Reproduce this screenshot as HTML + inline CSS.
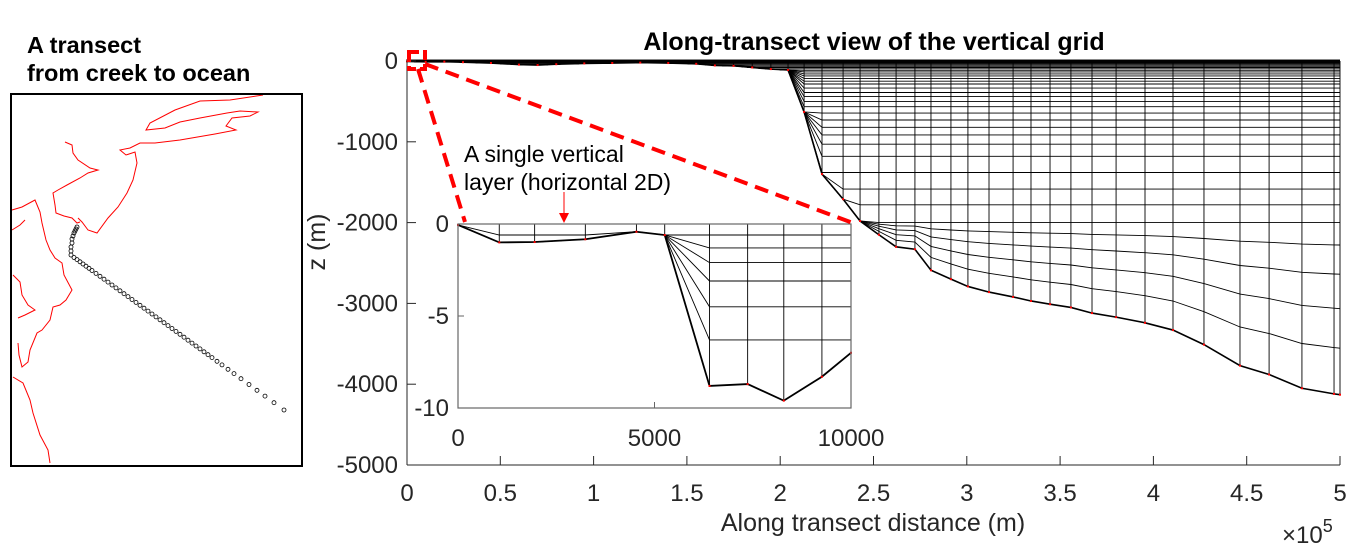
<!DOCTYPE html>
<html><head><meta charset="utf-8">
<style>
html,body{margin:0;padding:0;background:#fff;}
svg{display:block;font-family:"Liberation Sans",Arial,sans-serif;}
</style></head>
<body>
<svg id="fig" width="1355" height="558" viewBox="0 0 1355 558" xmlns="http://www.w3.org/2000/svg">
  <g id="left-panel">
    <text x="27" y="53" font-size="23.5" font-weight="bold">A transect</text>
    <text x="27" y="81" font-size="23.5" font-weight="bold">from creek to ocean</text>
    <g id="coast" fill="none" stroke="#f00" stroke-width="1"></g>
    <g id="transect" fill="none" stroke="#000" stroke-width="0.8"></g>
    <rect x="11" y="94" width="291" height="372" fill="none" stroke="#000" stroke-width="2"/>
  </g>
  <g id="main">
    <text x="874" y="50" font-size="25" font-weight="bold" text-anchor="middle">Along-transect view of the vertical grid</text>
    <g id="grid" fill="none" stroke="#000" stroke-width="1"></g>
    <g id="axes"></g>
    <text x="873" y="531" font-size="25" text-anchor="middle" fill="#262626">Along transect distance (m)</text>
    <text x="1282" y="543" font-size="24" fill="#262626">×10<tspan dy="-11" font-size="18">5</tspan></text>
    <text transform="translate(325,242) rotate(-90)" font-size="25" text-anchor="middle" fill="#262626">z (m)</text>
    <g id="inset"></g>
    <g id="zoomind" fill="none" stroke="#f00" stroke-width="4" stroke-dasharray="14,8">
      <rect x="409" y="52" width="16" height="17" stroke-dasharray="10,4"/>
      <line x1="418" y1="69" x2="465" y2="222"/>
      <line x1="425" y1="64" x2="853" y2="223"/>
    </g>
    <text x="464" y="162" font-size="23" fill="#000">A single vertical</text>
    <text x="464" y="190" font-size="23" fill="#000">layer (horizontal 2D)</text>
    <line x1="564" y1="192" x2="564" y2="214" stroke="#f00" stroke-width="1"/>
    <polygon points="559,213 569,213 564,223" fill="#f00"/>
  </g>
</svg>
<script>
// ---- main chart data ----
const colDist = [0,10000,20000,30000,45000,60000,70000,80000,95000,110000,125000,140000,155000,165000,175000,185000,195000,
  204200,212800,222400,233700,242800,252900,262100,272200,280800,291500,300600,311900,324800,334400,344600,355800,367100,380000,395500,410500,427100,446400,462000,479600,496800,500000];
const colDepth = [-5,-10,-8,-15,-25,-45,-50,-40,-30,-25,-20,-25,-35,-55,-60,-80,-100,
  -111,-630,-1400,-1710,-1980,-2150,-2300,-2330,-2590,-2700,-2790,-2860,-2920,-2970,-3010,-3050,-3120,-3170,-3240,-3330,-3510,-3770,-3880,-4050,-4120,-4130];
const zLevels = [0,-4,-9,-15,-22,-30,-40,-52,-65,-80,-97,-115,-135,-160,-185,-215,-250,-285,-335,-390,-440,-500,-565,-645,-730,-820,-915,-1030,-1180,-1380,-1585,-1780,-2000];
const sigmaFrac = [0.13,0.30,0.50,0.73];
const xTicks = [0,50000,100000,150000,200000,250000,300000,350000,400000,450000,500000];
const xTickLabels = ["0","0.5","1","1.5","2","2.5","3","3.5","4","4.5","5"];
const yTicks = [0,-1000,-2000,-3000,-4000,-5000];
const yTickLabels = ["0","-1000","-2000","-3000","-4000","-5000"];
// ---- inset data ----
const inDist = [0,1050,1950,3240,4540,5260,6400,7370,8290,9260,10000];
const inDepth = [-0.05,-1.0,-0.98,-0.83,-0.42,-0.6,-8.8,-8.7,-9.6,-8.3,-7.0];
const inLevels = [0,-0.6,-1.3,-2.1,-3.1,-4.5,-6.3];
const inXTicks = [0,5000,10000];
const inXTickLabels = ["0","5000","10000"];
const inYTicks = [0,-5,-10];
const inYTickLabels = ["0","-5","-10"];
// ---- map data (pixel space of map panel) ----
const coastLines = [
 [[263,95],[230,100],[200,101],[175,110],[150,123],[146,130],[165,128],[180,122],[200,118],[227,113],[240,111],[258,112],[250,116],[232,118],[226,126],[236,130],[215,134],[180,140],[155,143],[140,143],[130,148],[120,150],[126,155],[135,152],[137,163],[133,180],[127,193],[118,207],[108,218],[97,233],[88,230],[82,222],[78,218]],
 [[65,142],[72,145],[73,153],[78,160],[90,168],[98,170],[88,173],[80,178],[67,185],[58,190],[53,193],[55,205],[56,213],[64,216],[72,218],[77,223],[80,222]],
 [[12,210],[22,207],[35,200],[40,212],[42,223],[46,240],[50,250],[55,258],[62,263],[64,275],[72,290],[66,300],[60,305],[53,307],[50,320],[42,330],[37,333],[30,350],[28,362],[22,367],[19,355],[18,343]],
 [[12,230],[20,225],[25,220]],
 [[13,275],[20,282],[22,295],[28,305],[35,310],[25,315],[18,318]],
 [[13,377],[23,383],[30,400],[33,413],[40,435],[48,450],[50,463]]
];
const transectPts = [[77,227],[76,229],[75,231],[74,233],[73,236],[72,239],[72,243],[71,247],[71,251],[71,255],
 [74,257.5],[77,259.6],[80,261.8],[83,264],[86,266.2],[89,268.3],[92,270.5],[96,273.4],[100,276.3],[104,279.2],[108,282.1],[112,285],[116,287.9],[120,290.8],[124,293.7],[128,296.6],[132,299.5],[136,302.4],[140,305.3],[144,308.2],[148,311.1],[152,314],[156,316.9],[160,319.8],[164,322.7],[168,325.6],[172,328.5],[176,331.4],[180,334.3],[184,337.2],[188,340.2],[192,343.1],[196,346],[200,348.9],[204,351.8],[208,354.7],[212,357.6],[217,361.3],[222,364.9],[228,369.3],[234,373.6],[241,378.7],[249,384.5],[257,390.3],[265,396.1],[274,402.7],[284,410]];

const NS="http://www.w3.org/2000/svg";
function mk(tag, attrs, parent){const e=document.createElementNS(NS,tag);for(const k in attrs)e.setAttribute(k,attrs[k]);parent.appendChild(e);return e;}
const X=d=>407+d/500000*933;
const Y=z=>61-z/5000*404;
const grid=document.getElementById('grid');
function nodeZ(i,k){
  const b=colDepth[i];
  if(k<zLevels.length) return Math.max(zLevels[k],b);
  const f=sigmaFrac[k-zLevels.length];
  if(b< -2000) return -2000+f*(b+2000);
  return b;
}
const nLev=zLevels.length+sigmaFrac.length;
for(let k=1;k<nLev;k++){
  let pts=colDist.map((d,i)=>X(d).toFixed(1)+','+Y(nodeZ(i,k)).toFixed(1)).join(' ');
  const pl=mk('polyline',{points:pts,'stroke-width':0.9},grid);
  
  
}
colDist.forEach((d,i)=>{
  const l=mk('line',{x1:X(d),y1:Y(0),x2:X(d),y2:Y(colDepth[i]),'stroke-width':0.9},grid);
  
  
});
const bl=mk('polyline',{points:colDist.map((d,i)=>X(d)+','+Y(colDepth[i])).join(' '),'stroke-width':1.6},grid);


const sl=mk('line',{x1:X(0),y1:Y(0),x2:X(500000),y2:Y(0),'stroke-width':2},grid);


colDist.forEach((d,i)=>{
  const c=mk('rect',{x:X(d)-1,y:Y(colDepth[i])-1,width:2,height:2,fill:'#f00',stroke:'none'},grid);
  
  
});
const ax=document.getElementById('axes');
const AC='#262626';
mk('line',{x1:407,y1:465,x2:1340,y2:465,stroke:AC,'stroke-width':1},ax);
mk('line',{x1:407,y1:59,x2:407,y2:465,stroke:AC,'stroke-width':1},ax);
mk('line',{x1:407,y1:59.5,x2:1340,y2:59.5,stroke:'#888','stroke-width':1},ax);
xTicks.forEach((t,i)=>{
  mk('line',{x1:X(t),y1:465,x2:X(t),y2:456,stroke:AC},ax);
  const tx=mk('text',{x:X(t),y:501,'font-size':24,'text-anchor':'middle',fill:AC},ax);
  tx.textContent=xTickLabels[i];
  
  
});
yTicks.forEach((t,i)=>{
  mk('line',{x1:407,y1:Y(t),x2:416,y2:Y(t),stroke:AC},ax);
  const tx=mk('text',{x:398,y:Y(t)+8,'font-size':24,'text-anchor':'end',fill:AC},ax);
  tx.textContent=yTickLabels[i];
  
  
});
const ins=document.getElementById('inset');
const IX=d=>458+d/10000*393;
const IY=z=>224-z/10*184;
mk('rect',{x:458,y:224,width:393,height:184,fill:'#fff',stroke:'none'},ins);
function inZ(i,k){return Math.max(inLevels[k],inDepth[i]);}
for(let k=1;k<inLevels.length;k++){
  const pl=mk('polyline',{points:inDist.map((d,i)=>IX(d).toFixed(1)+','+IY(inZ(i,k)).toFixed(1)).join(' '),fill:'none',stroke:'#000','stroke-width':0.9},ins);
  
  
}
inDist.forEach((d,i)=>{
  const l=mk('line',{x1:IX(d),y1:IY(0),x2:IX(d),y2:IY(inDepth[i]),stroke:'#000','stroke-width':0.9},ins);
  
  
});
const ib=mk('polyline',{points:inDist.map((d,i)=>IX(d)+','+IY(inDepth[i])).join(' '),fill:'none',stroke:'#000','stroke-width':1.8},ins);


inDist.forEach((d,i)=>{
  const c=mk('rect',{x:IX(d)-1,y:IY(inDepth[i])-1,width:2,height:2,fill:'#f00'},ins);
  
  
});
mk('rect',{x:458,y:224,width:393,height:184,fill:'none',stroke:'#666','stroke-width':1.2},ins);
inXTicks.forEach((t,i)=>{
  mk('line',{x1:IX(t),y1:408,x2:IX(t),y2:402,stroke:'#666'},ins);
  const tx=mk('text',{x:IX(t),y:446,'font-size':24,'text-anchor':'middle',fill:AC},ins);
  tx.textContent=inXTickLabels[i];
  
  
});
inYTicks.forEach((t,i)=>{
  mk('line',{x1:458,y1:IY(t),x2:464,y2:IY(t),stroke:'#666'},ins);
  const tx=mk('text',{x:449,y:IY(t)+8,'font-size':24,'text-anchor':'end',fill:AC},ins);
  tx.textContent=inYTickLabels[i];
  
  
});
const coast=document.getElementById('coast');
coastLines.forEach(line=>{
  const p=mk('polyline',{points:line.map(p=>p.join(',')).join(' ')},coast);
  
  
});
const tr=document.getElementById('transect');
transectPts.forEach(p=>{
  const c=mk('circle',{cx:p[0],cy:p[1],r:2},tr);
  
  
});
</script>
</body></html>
